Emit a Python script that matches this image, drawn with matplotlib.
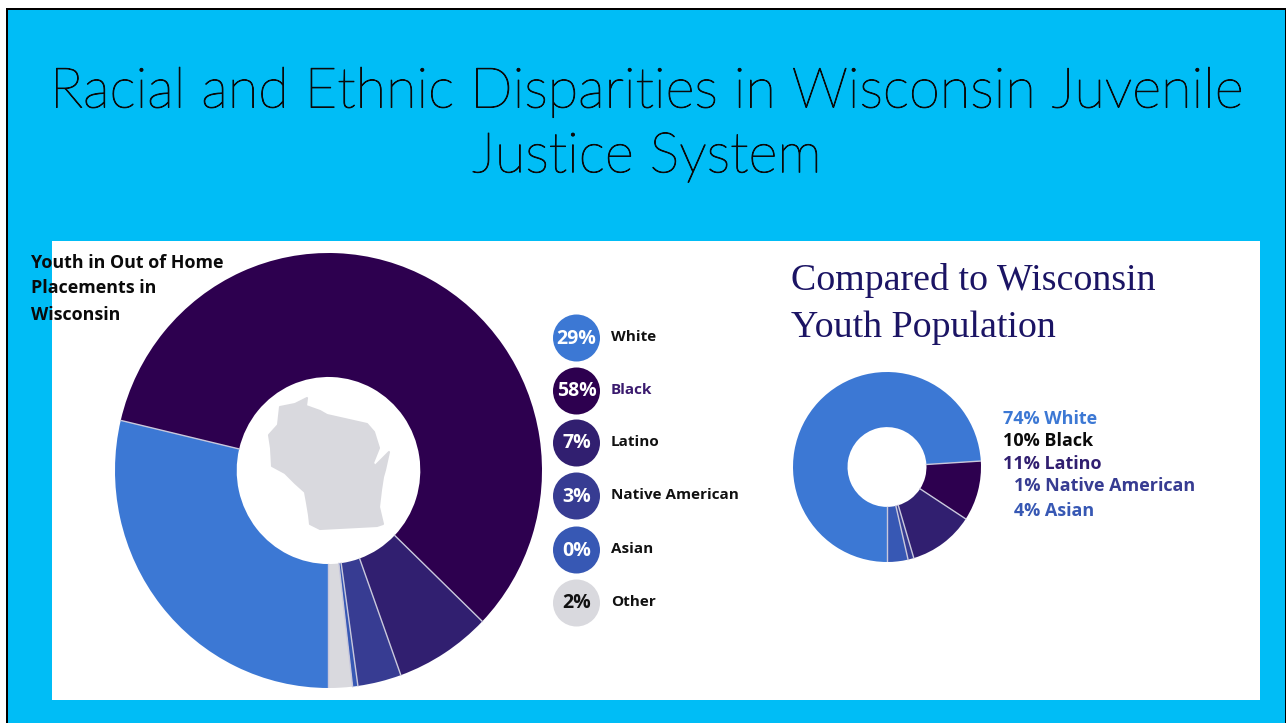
import matplotlib
matplotlib.use("Agg")
import matplotlib.pyplot as plt
import matplotlib.patheffects as pe
import numpy as np
from matplotlib.patches import Rectangle, Circle, Polygon

W = 1286
H = 723

# big donut, slice sizes
groups = ["White", "Black", "Latino", "Native American", "Asian", "Other"]
placement_share = [28.7, 58.5, 7.3, 3.3, 0.4, 1.8]
placement_labels = ["29%", "58%", "7%", "3%", "0%", "2%"]
colors = ["#3c78d4", "#2d004f", "#311f70", "#373c92", "#3758b4", "#d9d9de"]
label_colors = ["#111111", "#3a1a6e", "#111111", "#111111", "#111111", "#111111"]

# small donut
pop_groups = ["White", "Black", "Latino", "Native American", "Asian"]
pop_share = [74, 10.2, 11.2, 1, 3.6]
pop_labels = ["74% White", "10% Black", "11% Latino", "1% Native American", "4% Asian"]
pop_colors = ["#3c78d4", "#2d004f", "#311f70", "#373c92", "#3758b4"]
pop_text_colors = ["#3c78d4", "#0a0a0a", "#311f70", "#373c92", "#3758b4"]

# outline of the state in the middle
wisconsin = [(307,398),(306,406),(320,411),(327,415),(367,424),(374,432),(379,448),(373,463),
             (375,466),(383,458),(389,452),(385,470),(383,477),(381,490),(379,507),(383,524),
             (377,526),(320,529),(310,524),(309,515),(307,503),(305,492),(295,483),(285,473),
             (272,466),(271,448),(269,435),(278,425),(280,407),(295,404)]


def px_axes(left, top, right, bottom):
    return fig.add_axes([left / W, 1 - bottom / H, (right - left) / W, (bottom - top) / H])


def donut(ax, values, cols, hole):
    ax.pie(values, colors=cols, startangle=270, counterclock=False, radius=1,
           wedgeprops=dict(width=1 - hole, edgecolor="none"))
    # thin light lines between the slices only, the outer rim has none
    shares = np.cumsum(values) / np.sum(values)
    for s in shares:
        a = np.deg2rad(270 - 360 * s)
        ax.plot([hole * np.cos(a), np.cos(a)], [hole * np.sin(a), np.sin(a)],
                color="#c9c8dc", lw=1)
    ax.set_aspect("auto")
    ax.set_xlim(-1, 1)
    ax.set_ylim(-1, 1)
    ax.axis("off")


fig = plt.figure(figsize=(W / 100, H / 100), dpi=100, facecolor="white")

bg = fig.add_axes([0, 0, 1, 1], zorder=0)
bg.set_xlim(0, W)
bg.set_ylim(H, 0)
bg.axis("off")
bg.add_patch(Rectangle((6, 8), W - 6, H - 8, fc="black", ec="none"))
bg.add_patch(Rectangle((8, 10), 1277, H - 10, fc="#00bdf6", ec="none"))
bg.add_patch(Rectangle((52, 241), 1208, 459, fc="white", ec="none"))

ax1 = px_axes(115, 253, 542, 688)
ax1.set_zorder(1)
donut(ax1, placement_share, colors, 0.43)

ax2 = px_axes(793, 372, 981, 562)
ax2.set_zorder(1)
donut(ax2, pop_share, pop_colors, 0.42)

top = fig.add_axes([0, 0, 1, 1], zorder=2)
top.set_xlim(0, W)
top.set_ylim(H, 0)
top.axis("off")
top.patch.set_alpha(0)

top.add_patch(Polygon(wisconsin, closed=True, fc="#d9d9de", ec="#d9d9de", lw=1.5, joinstyle="round"))

# Lato Light alone comes out too thin, a small stroke brings it closer
thicker = [pe.withStroke(linewidth=0.7, foreground="#0a0a0a")]
top.text(647, 92, "Racial and Ethnic Disparities in Wisconsin Juvenile", ha="center", va="center",
         fontsize=40.3, family="Lato", fontweight="light", color="#0a0a0a", path_effects=thicker)
top.text(647, 157, "Justice System", ha="center", va="center",
         fontsize=40.3, family="Lato", fontweight="light", color="#0a0a0a", path_effects=thicker)

for y, s in zip([263, 288, 315], ["Youth in Out of Home", "Placements in", "Wisconsin"]):
    top.text(31, y, s, ha="left", va="center", fontsize=12.9, family="Open Sans",
             fontweight="bold", color="#0a0a0a")

legend_y = [338, 391, 443, 496, 550, 603]
for i, y in enumerate(legend_y):
    top.add_patch(Circle((576.5, y), 23.5, fc=colors[i], ec="none"))
    top.text(576.5, y + 0.5, placement_labels[i], ha="center", va="center", fontsize=14,
             family="Open Sans", fontweight="bold",
             color="#111111" if groups[i] == "Other" else "white")
    top.text(611, y - 1, groups[i], ha="left", va="center", fontsize=11,
             family="Open Sans", fontweight="bold", color=label_colors[i])

top.text(791, 281, "Compared to Wisconsin", ha="left", va="center", fontsize=27.3,
         family="Liberation Serif", color="#1b1464")
top.text(791, 328, "Youth Population", ha="left", va="center", fontsize=27.3,
         family="Liberation Serif", color="#1b1464")

pop_x = [1003, 1003, 1003, 1014, 1014]
pop_y = [419, 441, 464, 486, 511]
for x, y, s, c in zip(pop_x, pop_y, pop_labels, pop_text_colors):
    top.text(x, y, s, ha="left", va="center", fontsize=13, family="Open Sans",
             fontweight="bold", color=c)

fig.savefig("out.png", dpi=100)
